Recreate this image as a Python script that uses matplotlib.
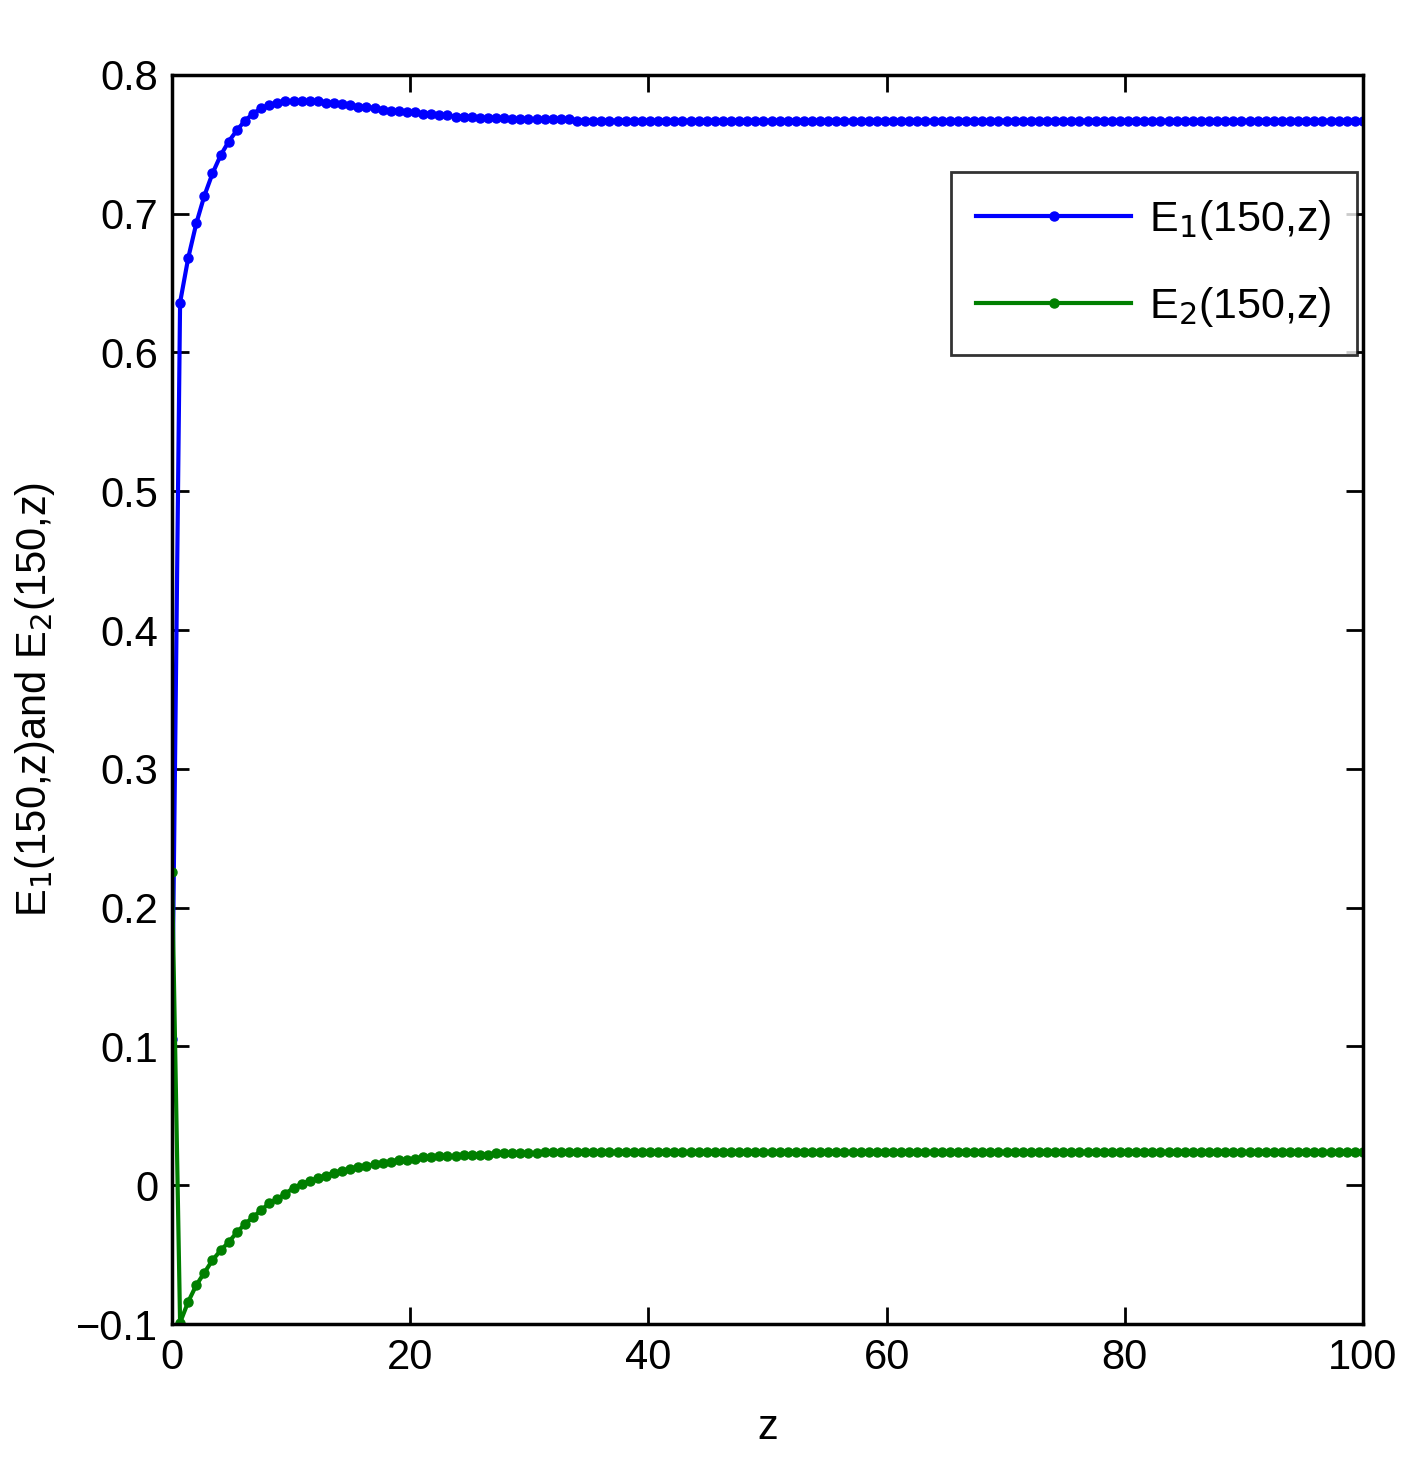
import numpy as np
import matplotlib
matplotlib.use("Agg")
import matplotlib.pyplot as plt

n_points = 148
z = np.linspace(0, 100, n_points)

e1_head = [0.105, 0.636, 0.668, 0.693, 0.713, 0.729, 0.742, 0.752, 0.760, 0.767,
           0.772, 0.776, 0.778, 0.780, 0.781, 0.781, 0.781, 0.781, 0.781, 0.780,
           0.780, 0.779, 0.778, 0.777, 0.777, 0.776, 0.775, 0.774, 0.774, 0.773,
           0.773, 0.772, 0.772, 0.771, 0.771, 0.770, 0.770, 0.770, 0.769, 0.769,
           0.769, 0.769, 0.768, 0.768, 0.768, 0.768, 0.768, 0.768, 0.768, 0.768]
e1 = e1_head + [0.767] * (n_points - len(e1_head))

e2_head = [0.226, -0.099, -0.084, -0.072, -0.063, -0.054, -0.047, -0.041, -0.034, -0.028,
           -0.023, -0.018, -0.013, -0.010, -0.006, -0.002, 0.001, 0.003, 0.005, 0.007,
           0.009, 0.010, 0.012, 0.013, 0.014, 0.015, 0.016, 0.017, 0.018, 0.018,
           0.019, 0.020, 0.020, 0.021, 0.021, 0.021, 0.022, 0.022, 0.022, 0.022,
           0.023, 0.023, 0.023, 0.023, 0.023, 0.023, 0.024, 0.024, 0.024, 0.024]
e2 = e2_head + [0.024] * (n_points - len(e2_head))

fig = plt.figure(figsize=(14.12, 14.63), dpi=100)
ax = fig.add_axes([0.1218, 0.095, 0.8435, 0.8538])
ax.plot(z, e1, '.-', color='#0000ff', lw=3, ms=13, label=r'E$_1$(150,z)')
ax.plot(z, e2, '.-', color='#007f00', lw=3, ms=13, label=r'E$_2$(150,z)')
ax.set_xlim(0, 100)
ax.set_ylim(-0.1, 0.8)
ax.set_xticks([0, 20, 40, 60, 80, 100])
ax.set_yticks(np.arange(-0.1, 0.81, 0.1))
ax.set_yticklabels(['\u22120.1', '0', '0.1', '0.2', '0.3', '0.4', '0.5', '0.6', '0.7', '0.8'])
ax.tick_params(direction='in', length=12, width=2, top=True, right=True, labelsize=30, pad=10)
for lab in ax.get_xticklabels() + ax.get_yticklabels():
    lab.set_family('Liberation Sans')
for s in ax.spines.values():
    s.set_linewidth(2.5)
ax.set_xlabel('z', fontsize=30, family='Liberation Sans', labelpad=22)
ax.set_ylabel(r'E$_1$(150,z)and E$_2$(150,z)', fontsize=30, family='Liberation Sans', labelpad=14)
leg = ax.legend(loc='upper right', bbox_to_anchor=(0.995, 0.922), borderaxespad=0,
                prop={'family': 'Liberation Sans', 'size': 31}, fancybox=False, edgecolor='black',
                handlelength=3.6, borderpad=0.6, labelspacing=1.0, handletextpad=0.4)
leg.get_frame().set_linewidth(2)
fig.savefig('out.png', dpi=100)
